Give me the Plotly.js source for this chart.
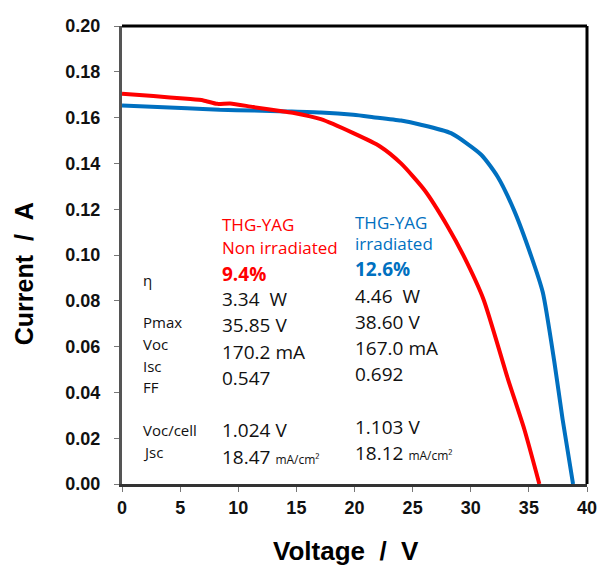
<!DOCTYPE html>
<html>
<head>
<meta charset="utf-8">
<script src="https://cdn.plot.ly/plotly-3.0.1.min.js"></script>
<style>html,body{margin:0;padding:0;background:#fff;}#chart{width:598px;height:566px;}</style>
</head>
<body>
<div id="chart"></div>
<script>
// Non irradiated (red)
const redV = [0, 2.7, 5.6, 7.0, 8.2, 9.3, 11.3, 13.9, 14.8, 17.1, 19.9, 22.2, 24.0, 26.0, 28.0, 29.4, 31.1, 33.2, 34.6, 35.9];
const redI = [0.1704, 0.1694, 0.1682, 0.1675, 0.1660, 0.1662, 0.1646, 0.1627, 0.1620, 0.1593, 0.1532, 0.1474, 0.1400, 0.1285, 0.1126, 0.0995, 0.0806, 0.0458, 0.0240, 0.0];
// Irradiated (blue)
const blueV = [0, 5.6, 8.4, 11.3, 14.2, 17.1, 19.9, 21.6, 24.0, 25.7, 28.3, 30.9, 32.3, 33.7, 35.2, 36.2, 37.2, 37.9, 38.8];
const blueI = [0.1653, 0.1641, 0.1634, 0.1631, 0.1627, 0.1622, 0.1612, 0.1602, 0.1587, 0.1569, 0.1532, 0.1438, 0.1343, 0.1198, 0.0995, 0.0836, 0.053, 0.0283, 0.0];

const xTicks = [0, 5, 10, 15, 20, 25, 30, 35, 40];
const yTicks = [0, 0.02, 0.04, 0.06, 0.08, 0.10, 0.12, 0.14, 0.16, 0.18, 0.20];
const yTickLabels = ["0.00", "0.02", "0.04", "0.06", "0.08", "0.10", "0.12", "0.14", "0.16", "0.18", "0.20"];

const xTitle = "Voltage\u00A0\u00A0/\u00A0\u00A0V";
const yTitle = "Current\u00A0\u00A0/\u00A0\u00A0A";

const paramLabels = ["η", "Pmax", "Voc", "Isc", "FF", "Voc/cell", "Jsc"];
const redHeader = ["THG-YAG", "Non irradiated"];
const blueHeader = ["THG-YAG", "irradiated"];
const redEff = "9.4%";
const blueEff = "12.6%";
const redValues = ["3.34  W", "35.85 V", "170.2 mA", "0.547", "1.024 V", "18.47 <span style='font-size:12px'>mA/cm²</span>"];
const blueValues = ["4.46  W", "38.60 V", "167.0 mA", "0.692", "1.103 V", "18.12 <span style='font-size:12px'>mA/cm²</span>"];

const RED = "#FF0000", BLUE = "#0070C0";
const FONT = "Open Sans, Noto Sans, sans-serif";
const TITLEFONT = "Liberation Sans, Arial, sans-serif";

const traces = [
  {x: blueV, y: blueI, mode: "lines", line: {color: BLUE, width: 4, shape: "spline", smoothing: 0.6}, hoverinfo: "skip"},
  {x: redV, y: redI, mode: "lines", line: {color: RED, width: 4, shape: "spline", smoothing: 0.6}, hoverinfo: "skip"}
];

// positions (data units)
const labelX = 1.6, redX = 8.4, blueX = 19.9;
const labelY = [0.0891, 0.0707, 0.0611, 0.0515, 0.0424, 0.0236, 0.0140];
const redHeadY = [0.1135, 0.1031], redEffY = 0.0917;
const redValY = [0.0808, 0.0694, 0.0576, 0.0463, 0.0236, 0.0118];
const blueHeadY = [0.1144, 0.1052], blueEffY = 0.0939;
const blueValY = [0.0821, 0.0707, 0.0594, 0.0480, 0.0249, 0.0135];

const ann = [];
function add(x, y, text, size, color, bold) {
  ann.push({x: x, y: y, xref: "x", yref: "y", text: text, showarrow: false,
    xanchor: "left", yanchor: "middle",
    font: {family: FONT, size: size, color: color, weight: bold ? "bold" : "normal"}});
}
paramLabels.forEach((t, i) => add(labelX, labelY[i], t, 15, "#111", false));
redHeader.forEach((t, i) => add(redX, redHeadY[i], t, 17, RED, false));
blueHeader.forEach((t, i) => add(blueX, blueHeadY[i], t, 17, BLUE, false));
add(redX, redEffY, redEff, 19, RED, true);
add(blueX, blueEffY, blueEff, 19, BLUE, true);
redValues.forEach((t, i) => add(redX, redValY[i], t, 19, "#111", false));
blueValues.forEach((t, i) => add(blueX, blueValY[i], t, 19, "#111", false));

// axis titles
ann.push({xref: "paper", yref: "paper", x: 0.481, y: -0.146, text: xTitle, showarrow: false,
  xanchor: "center", yanchor: "middle",
  font: {family: TITLEFONT, size: 26, color: "#000", weight: "bold"}});
ann.push({xref: "paper", yref: "paper", x: -0.211, y: 0.46, text: yTitle, showarrow: false, textangle: -90,
  xanchor: "center", yanchor: "middle",
  font: {family: TITLEFONT, size: 25, color: "#000", weight: "bold"}});

const layout = {
  width: 598, height: 566,
  margin: {l: 122, r: 11, t: 26, b: 82},
  paper_bgcolor: "#fff", plot_bgcolor: "#fff",
  showlegend: false,
  xaxis: {
    range: [0, 40], tickvals: xTicks, ticktext: xTicks.map(String),
    showgrid: false, zeroline: false,
    showline: true, linecolor: "#333", linewidth: 3,
    ticks: "outside", ticklen: 5, tickcolor: "#777", tickwidth: 1,
    tickfont: {family: "Liberation Sans, Arial, sans-serif", size: 18, color: "#111", weight: "bold"}
  },
  yaxis: {
    range: [0, 0.2], tickvals: yTicks, ticktext: yTickLabels,
    showgrid: false, zeroline: false,
    showline: true, linecolor: "#555", linewidth: 3,
    ticks: "outside", ticklen: 5, tickcolor: "#777", tickwidth: 1,
    ticklabelstandoff: 10,
    tickfont: {family: "Liberation Sans, Arial, sans-serif", size: 18, color: "#111", weight: "bold"}
  },
  shapes: [
    {type: "line", xref: "paper", yref: "paper", x0: 0, x1: 1, y0: 1, y1: 1, line: {color: "#000", width: 3}},
    {type: "line", xref: "paper", yref: "paper", x0: 1, x1: 1, y0: 0, y1: 1, line: {color: "#000", width: 3}}
  ],
  annotations: ann
};

Plotly.newPlot("chart", traces, layout, {displayModeBar: false, staticPlot: true});
</script>
</body>
</html>
